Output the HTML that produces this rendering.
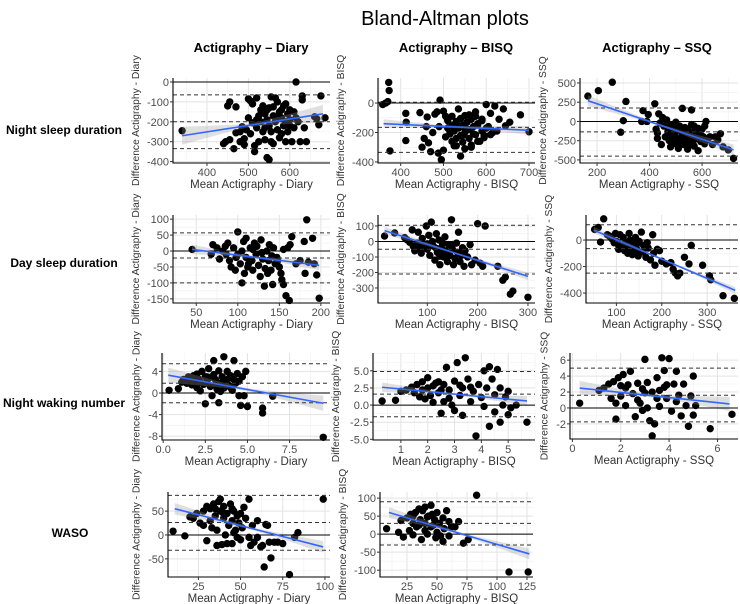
<!DOCTYPE html>
<html><head><meta charset="utf-8"><style>
html,body{margin:0;padding:0;background:#fff;}
svg{display:block;font-family:"Liberation Sans",Arial,sans-serif;}
</style></head><body>
<svg id="chart" width="740" height="604" viewBox="0 0 740 604" xmlns="http://www.w3.org/2000/svg">
<text x="445" y="25" font-size="20" text-anchor="middle" fill="#000">Bland-Altman plots</text>
<text x="251" y="52" font-size="13" font-weight="bold" text-anchor="middle">Actigraphy – Diary</text>
<text x="456" y="52" font-size="13" font-weight="bold" text-anchor="middle">Actigraphy – BISQ</text>
<text x="657" y="52" font-size="13" font-weight="bold" text-anchor="middle">Actigraphy – SSQ</text>
<text x="64" y="134" font-size="12" font-weight="bold" text-anchor="middle">Night sleep duration</text>
<text x="64" y="267" font-size="12" font-weight="bold" text-anchor="middle">Day sleep duration</text>
<text x="64" y="407" font-size="12" font-weight="bold" text-anchor="middle">Night waking number</text>
<text x="70" y="537" font-size="12" font-weight="bold" text-anchor="middle">WASO</text>
</svg>
<script>
// ---- data: points [mean, difference] per panel ----
const nightDiary=[[340,-245],[450,-120],[455,-100],[470,-125],[440,-310],[445,-300],[455,-290],[465,-335],[470,-255],[480,-250],[485,-225],[490,-285],[490,-315],[495,-240],[500,-180],[500,-85],[505,-95],[510,-110],[510,-205],[515,-350],[520,-80],[520,-230],[525,-300],[530,-140],[530,-200],[535,-120],[535,-250],[540,-160],[540,-290],[545,-190],[545,-380],[550,-390],[550,-130],[550,-220],[555,-75],[555,-250],[560,-170],[560,-310],[565,-80],[565,-200],[570,-100],[570,-240],[575,-150],[575,-280],[580,-180],[580,-260],[585,-120],[585,-220],[590,-110],[590,-300],[595,-160],[595,-250],[600,-140],[600,-190],[605,-300],[610,-230],[615,0],[615,-180],[620,-200],[625,-300],[630,-70],[630,-90],[635,-230],[640,-300],[660,-175],[665,-185],[670,-215],[675,-70],[685,-180],[525,-170],[545,-140],[560,-125],[505,-260],[515,-320],[570,-170],[590,-200],[600,-220],[480,-300],[540,-230],[555,-300],[580,-140],[520,-190],[610,-150]];
const nightBisq=[[358,-10],[365,0],[370,10],[372,140],[373,85],[375,-325],[412,-70],[413,-130],[412,-255],[445,-65],[450,-300],[455,-240],[460,-160],[462,-95],[465,-270],[470,-330],[475,-200],[480,-75],[485,-60],[488,-340],[490,-160],[492,20],[495,-385],[500,-55],[500,-320],[505,-90],[510,-120],[515,-190],[520,-90],[525,-290],[530,-130],[535,-40],[540,-360],[545,-220],[550,-170],[555,-130],[560,-80],[565,-300],[570,-210],[575,-60],[580,-150],[585,-260],[590,-110],[595,-220],[600,-10],[605,-160],[610,-70],[615,-200],[620,-20],[625,-190],[630,-110],[640,-40],[645,-155],[655,-130],[680,-80],[700,-195],[505,-230],[515,-210],[525,-190],[535,-170],[545,-150],[555,-130],[565,-110],[575,-90],[520,-260],[530,-240],[540,-220],[550,-200],[560,-180],[570,-160],[580,-140],[590,-120],[530,-290],[545,-265],[560,-240],[575,-215],[590,-190],[600,-170],[550,-310],[565,-285],[580,-260],[595,-235],[610,-215],[510,-170],[520,-150],[530,-125],[540,-105],[550,-85]];
const nightSsq=[[165,330],[205,400],[258,510],[290,-140],[300,10],[310,260],[370,0],[375,140],[390,0],[395,90],[420,230],[425,-100],[430,-220],[430,-150],[435,100],[440,-20],[445,-300],[450,50],[455,-60],[460,-200],[465,20],[470,-130],[475,-250],[480,-50],[480,-330],[485,-170],[490,-90],[495,-280],[500,-10],[500,-200],[505,-120],[510,-350],[515,-60],[520,-240],[525,170],[525,-150],[530,-300],[535,-80],[540,-200],[545,-360],[550,-130],[555,-250],[560,150],[560,-40],[565,-180],[570,-320],[575,-100],[580,-220],[585,-380],[590,-150],[595,-260],[600,-100],[605,-200],[610,-60],[615,0],[620,-240],[630,-200],[640,-300],[650,-200],[660,-240],[670,-160],[680,-330],[700,-370],[720,-480],[505,-300],[515,-220],[545,-110],[565,-280],[585,-90],[475,-120],[490,-220],[530,-170],[550,-310],[570,-60],[595,-180],[610,-290],[540,-260],[520,-100],[580,-150]];
const dayDiary=[[45,5],[68,-10],[70,20],[75,10],[78,-25],[82,0],[85,15],[88,25],[90,-30],[92,-50],[95,10],[97,-60],[100,60],[100,-10],[103,-40],[105,0],[105,-100],[107,30],[110,-20],[110,40],[112,-50],[115,10],[117,-30],[118,-60],[120,25],[122,-10],[125,-45],[127,-80],[128,35],[130,-25],[132,-110],[133,-55],[135,0],[137,-30],[138,20],[140,-60],[142,-105],[143,10],[145,-40],[147,-20],[150,-50],[152,-70],[153,-90],[155,-105],[155,5],[158,-140],[160,10],[162,-155],[163,20],[165,45],[170,-40],[175,-30],[180,30],[181,-70],[183,98],[185,-35],[190,40],[192,-40],[195,-75],[198,-148],[113,-40],[123,15],[136,-70],[148,-30],[98,-20],[108,-70],[118,5],[129,-5],[141,-15],[86,-10]];
const dayBisq=[[15,35],[35,55],[55,25],[60,10],[65,-5],[70,75],[72,-30],[75,-60],[80,-10],[82,60],[85,-40],[88,-75],[90,20],[95,-20],[98,100],[100,-50],[103,40],[105,-90],[108,125],[110,0],[112,-30],[115,-120],[118,50],[120,-70],[123,10],[125,-150],[128,-40],[130,-10],[133,-100],[135,30],[137,-60],[140,-130],[142,-20],[145,-90],[148,140],[150,-50],[152,-150],[155,-110],[158,-10],[160,-70],[162,60],[165,-130],[168,-90],[170,-40],[173,-160],[175,-60],[180,-100],[185,-20],[188,-150],[195,-120],[200,115],[205,-140],[210,-160],[215,100],[240,-160],[250,-250],[255,-230],[265,-340],[270,-320],[300,-360],[140,-80],[118,-45],[125,-95],[165,-80],[150,-20],[130,-70],[108,-20],[100,-15],[90,-35]];
const daySsq=[[52,80],[60,95],[65,-15],[72,160],[80,40],[85,30],[90,10],[95,-20],[98,50],[100,-10],[105,-40],[108,40],[110,-60],[115,20],[118,-80],[120,-20],[125,-100],[128,50],[130,-50],[135,-110],[140,-30],[142,20],[145,-70],[148,-120],[150,-10],[155,60],[158,-90],[160,-40],[165,-130],[168,-20],[170,-60],[175,-150],[180,40],[182,-100],[185,-190],[190,-70],[195,-80],[200,-160],[210,-180],[220,-170],[225,-220],[230,-250],[235,-270],[240,-250],[250,-130],[260,-180],[265,-40],[290,-190],[305,-270],[308,-300],[335,-420],[360,-440],[115,-40],[125,-20],[135,-60],[145,-30],[105,-70],[150,-90],[130,0]];
const wakeDiary=[[0.35,0.5],[0.9,0.8],[1.1,2.0],[1.2,2.5],[1.4,1.8],[1.5,3.0],[1.6,2.2],[1.7,1.5],[1.8,3.2],[1.9,2.0],[2.0,1.0],[2.0,3.5],[2.1,2.6],[2.2,0.4],[2.3,4.0],[2.4,1.6],[2.5,-2.0],[2.5,3.0],[2.6,2.1],[2.7,4.5],[2.8,1.2],[2.9,-0.5],[3.0,3.4],[3.0,6.0],[3.1,2.5],[3.2,0.7],[3.3,-1.8],[3.3,4.1],[3.4,1.8],[3.5,3.0],[3.6,6.7],[3.6,0.9],[3.7,2.2],[3.8,4.0],[3.9,1.4],[4.0,3.2],[4.1,0.5],[4.2,6.0],[4.2,2.5],[4.3,1.8],[4.4,3.6],[4.5,2.2],[4.5,-0.5],[4.6,-2.3],[4.7,3.0],[4.8,-0.5],[4.9,4.0],[5.0,-2.5],[5.9,-2.8],[5.9,-3.7],[6.5,-0.6],[9.5,-8.2],[2.2,2.0],[2.6,3.0],[3.1,1.5],[3.9,2.7],[2.8,2.9],[3.4,0.3],[1.9,2.6],[4.0,1.0]];
const wakeBisq=[[0.3,0.6],[0.8,0.7],[1.0,2.0],[1.2,2.2],[1.4,2.6],[1.5,1.8],[1.6,3.0],[1.7,1.2],[1.8,3.4],[1.9,0.9],[2.0,4.0],[2.0,2.5],[2.1,1.4],[2.2,0.4],[2.3,3.2],[2.4,1.8],[2.5,-1.2],[2.6,3.0],[2.6,0.5],[2.7,5.5],[2.8,2.2],[2.9,0.0],[3.0,3.5],[3.0,-0.8],[3.1,6.2],[3.2,1.4],[3.3,-1.5],[3.3,2.5],[3.4,6.9],[3.5,3.8],[3.6,0.5],[3.7,2.0],[3.8,-4.5],[3.9,3.0],[4.0,1.1],[4.1,5.0],[4.1,-0.2],[4.2,2.5],[4.3,-3.1],[4.3,5.6],[4.4,3.8],[4.5,-1.0],[4.5,1.5],[4.6,5.2],[4.7,2.5],[4.7,-2.5],[4.8,0.0],[4.9,1.2],[5.0,2.0],[5.1,-0.4],[5.0,-1.4],[5.3,0.0],[5.7,-2.5],[2.2,2.8],[2.5,2.2],[2.8,1.0],[3.2,2.9],[3.6,2.6],[1.8,2.2],[2.4,3.4]];
const wakeSsq=[[0.3,0.6],[1.1,2.2],[1.3,2.5],[1.5,3.0],[1.6,1.2],[1.7,3.3],[1.8,-1.4],[1.8,0.6],[1.9,3.8],[2.0,1.5],[2.1,4.2],[2.2,2.5],[2.2,0.3],[2.4,4.6],[2.5,1.8],[2.6,-1.1],[2.7,3.1],[2.8,0.6],[2.9,2.4],[3.0,6.1],[3.1,0.0],[3.1,3.2],[3.2,-1.6],[3.3,-3.5],[3.3,2.0],[3.4,-2.0],[3.5,3.8],[3.6,0.2],[3.7,6.3],[3.8,2.6],[3.8,4.7],[3.9,1.2],[4.0,6.2],[4.1,-0.4],[4.2,3.0],[4.3,4.6],[4.4,1.6],[4.5,-1.0],[4.6,3.0],[4.7,0.3],[4.8,-2.3],[4.9,1.5],[5.0,4.0],[5.0,-0.9],[5.1,0.3],[5.7,-2.6],[6.6,-0.8],[2.3,2.9],[2.7,1.0],[3.0,1.9],[3.5,1.2],[3.9,2.9],[4.3,0.8],[2.0,2.8],[2.9,-0.3],[3.6,2.2]];
const wasoDiary=[[10,8],[17,-2],[20,38],[22,35],[24,45],[26,25],[28,50],[28,20],[30,-12],[30,60],[32,55],[33,15],[34,65],[35,40],[36,10],[37,70],[38,75],[38,50],[39,-20],[40,35],[40,60],[41,0],[42,45],[43,20],[44,65],[45,-18],[45,30],[46,50],[47,10],[48,40],[48,-5],[49,25],[50,-10],[51,15],[52,58],[53,35],[55,-5],[55,75],[56,-22],[57,20],[58,-15],[60,-5],[60,30],[62,-25],[63,-22],[64,-67],[65,22],[66,20],[67,-15],[68,-48],[70,-15],[72,-15],[75,-18],[79,-83],[82,-5],[84,5],[99,75],[35,55],[40,45],[45,55],[32,30],[50,45],[36,-22],[42,-18],[46,5]];
const wasoBisq=[[8,15],[18,5],[20,38],[22,-8],[25,45],[27,10],[28,55],[30,30],[30,-2],[32,60],[33,20],[35,70],[36,40],[37,-15],[38,65],[40,75],[40,30],[42,0],[43,50],[45,80],[45,20],[46,55],[48,40],[49,-10],[50,60],[52,30],[53,-5],[55,45],[56,15],[58,65],[60,-5],[60,35],[62,20],[65,20],[68,35],[72,-25],[76,-15],[83,108],[110,-105],[126,-105],[35,25],[42,48],[47,25],[55,-20],[30,50],[40,10],[50,5]];

// ---- statistics: [bias, upper LoA, lower LoA] ----
const statsNightDiary=[-200,-65,-335], statsNightBisq=[-165,5,-335], statsNightSsq=[-135,175,-450];
const statsDayDiary=[-22,57,-100], statsDayBisq=[-50,105,-210], statsDaySsq=[-65,115,-250];
const statsWakeDiary=[1.8,5.4,-1.8], statsWakeBisq=[1.6,4.9,-1.7], statsWakeSsq=[1.6,5.0,-1.75];
const statsWasoDiary=[26,83,-32], statsWasoBisq=[30,90,-30];
// ---- regression lines: [x1, y1, x2, y2] and CI half-width [at ends, at centre] ----
const regNightDiary=[340,-270,680,-160], ciNightDiary=[45,10];
const regNightBisq=[360,-140,700,-185], ciNightBisq=[30,8];
const regNightSsq=[165,270,720,-370], ciNightSsq=[70,15];
const regDayDiary=[45,5,198,-45], ciDayDiary=[15,4];
const regDayBisq=[15,70,300,-225], ciDayBisq=[25,6];
const regDaySsq=[50,75,362,-380], ciDaySsq=[25,6];
const regWakeDiary=[0.3,3.3,9.5,-1.9], ciWakeDiary=[1.4,0.3];
const regWakeBisq=[0.3,2.6,5.7,0.6], ciWakeBisq=[0.7,0.15];
const regWakeSsq=[0.3,2.5,6.5,0.5], ciWakeSsq=[0.9,0.2];
const regWasoDiary=[11,55,99,-25], ciWasoDiary=[12,3];
const regWasoBisq=[10,60,127,-55], ciWasoBisq=[15,4];
// ---- tick values ----
const ticksNightDiaryX=[400,500,600], ticksNightDiaryY=[0,-100,-200,-300,-400];
const ticksNightBisqX=[400,500,600,700], ticksNightBisqY=[0,-200,-400];
const ticksNightSsqX=[200,400,600], ticksNightSsqY=[500,250,0,-250,-500];
const ticksDayDiaryX=[50,100,150,200], ticksDayDiaryY=[100,50,0,-50,-100,-150];
const ticksDayBisqX=[100,200,300], ticksDayBisqY=[100,0,-100,-200,-300];
const ticksDaySsqX=[100,200,300], ticksDaySsqY=[0,-200,-400];
const ticksWakeDiaryX=[0,2.5,5,7.5], ticksWakeDiaryY=[4,0,-4,-8];
const ticksWakeBisqX=[1,2,3,4,5], ticksWakeBisqY=[5,2.5,0,-2.5,-5];
const ticksWakeSsqX=[0,2,4,6], ticksWakeSsqY=[6,4,2,0,-2];
const ticksWasoDiaryX=[25,50,75,100], ticksWasoDiaryY=[50,0,-50];
const ticksWasoBisqX=[25,50,75,100,125], ticksWasoBisqY=[100,50,0,-50,-100];

// ---- layout (pixel geometry & domains) ----
const panels=[
 {id:'night-diary',pts:nightDiary,st:statsNightDiary,rg:regNightDiary,ci:ciNightDiary,tx:ticksNightDiaryX,ty:ticksNightDiaryY,box:[173,78,330,163],dx:[318,697],dy:[-407,20],xl:'Mean Actigraphy - Diary',yl:'Difference Actigraphy - Diary',dec:0},
 {id:'night-bisq',pts:nightBisq,st:statsNightBisq,rg:regNightBisq,ci:ciNightBisq,tx:ticksNightBisqX,ty:ticksNightBisqY,box:[378,78,535,163],dx:[347,714],dy:[-407,170],xl:'Mean Actigraphy - BISQ',yl:'Difference Actigraphy - BISQ',dec:0},
 {id:'night-ssq',pts:nightSsq,st:statsNightSsq,rg:regNightSsq,ci:ciNightSsq,tx:ticksNightSsqX,ty:ticksNightSsqY,box:[580,78,738,163],dx:[135,737],dy:[-540,565],xl:'Mean Actigraphy - SSQ',yl:'Difference Actigraphy - SSQ',dec:0},
 {id:'day-diary',pts:dayDiary,st:statsDayDiary,rg:regDayDiary,ci:ciDayDiary,tx:ticksDayDiaryX,ty:ticksDayDiaryY,box:[173,215,330,303],dx:[22,211],dy:[-163,113],xl:'Mean Actigraphy - Diary',yl:'Difference Actigraphy - Diary',dec:0},
 {id:'day-bisq',pts:dayBisq,st:statsDayBisq,rg:regDayBisq,ci:ciDayBisq,tx:ticksDayBisqX,ty:ticksDayBisqY,box:[378,215,535,303],dx:[2,314],dy:[-397,171],xl:'Mean Actigraphy - BISQ',yl:'Difference Actigraphy - BISQ',dec:0},
 {id:'day-ssq',pts:daySsq,st:statsDaySsq,rg:regDaySsq,ci:ciDaySsq,tx:ticksDaySsqX,ty:ticksDaySsqY,box:[586,215,738,303],dx:[33,368],dy:[-475,189],xl:'Mean Actigraphy - SSQ',yl:'Difference Actigraphy - SSQ',dec:0},
 {id:'wake-diary',pts:wakeDiary,st:statsWakeDiary,rg:regWakeDiary,ci:ciWakeDiary,tx:ticksWakeDiaryX,ty:ticksWakeDiaryY,box:[162,353,330,440],dx:[-0.07,9.9],dy:[-8.7,7.4],xl:'Mean Actigraphy - Diary',yl:'Difference Actigraphy - Diary',dec:1,ydec:0},
 {id:'wake-bisq',pts:wakeBisq,st:statsWakeBisq,rg:regWakeBisq,ci:ciWakeBisq,tx:ticksWakeBisqX,ty:ticksWakeBisqY,box:[373,353,535,440],dx:[-0.04,6],dy:[-5.1,7.6],xl:'Mean Actigraphy - BISQ',yl:'Difference Actigraphy - BISQ',dec:0,ydec:1},
 {id:'wake-ssq',pts:wakeSsq,st:statsWakeSsq,rg:regWakeSsq,ci:ciWakeSsq,tx:ticksWakeSsqX,ty:ticksWakeSsqY,box:[570,353,738,439],dx:[-0.1,6.85],dy:[-3.9,6.9],xl:'Mean Actigraphy - SSQ',yl:'Difference Actigraphy - SSQ',dec:0},
 {id:'waso-diary',pts:wasoDiary,st:statsWasoDiary,rg:regWasoDiary,ci:ciWasoDiary,tx:ticksWasoDiaryX,ty:ticksWasoDiaryY,box:[168,492,330,577],dx:[7,103],dy:[-88,90],xl:'Mean Actigraphy - Diary',yl:'Difference Actigraphy - Diary',dec:0},
 {id:'waso-bisq',pts:wasoBisq,st:statsWasoBisq,rg:regWasoBisq,ci:ciWasoBisq,tx:ticksWasoBisqX,ty:ticksWasoBisqY,box:[380,492,533,577],dx:[2.5,130],dy:[-119,117],xl:'Mean Actigraphy - BISQ',yl:'Difference Actigraphy - BISQ',dec:0}
];
const NS='http://www.w3.org/2000/svg';
const svg=document.getElementById('chart');
function mk(tag,attrs,parent){const e=document.createElementNS(NS,tag);for(const k in attrs)e.setAttribute(k,attrs[k]);(parent||svg).appendChild(e);return e;}
panels.forEach(p=>{
 const [l,t,r,b]=p.box;
 const sx=v=>l+(v-p.dx[0])/(p.dx[1]-p.dx[0])*(r-l);
 const sy=v=>b-(v-p.dy[0])/(p.dy[1]-p.dy[0])*(b-t);
 const g=mk('g',{});
 
 
 const clipId='clip-'+p.id;
 const cp=mk('clipPath',{id:clipId},g);mk('rect',{x:l-4,y:t-4,width:r-l+8,height:b-t+8},cp);
 const stepX=p.tx[1]-p.tx[0], stepY=p.ty[0]-p.ty[1];
 for(let v=p.tx[0]-stepX*2;v<=p.dx[1]+stepX;v+=stepX/2){const x=sx(v);if(x<l||x>r)continue;
  const major=p.tx.some(u=>Math.abs(u-v)<1e-9);
  const gl=mk('line',{x1:x,x2:x,y1:t,y2:b,stroke:major?'#e3e3e3':'#f2f2f2','stroke-width':major?1:0.7},g);
  }
 for(let v=p.ty[p.ty.length-1]-stepY*2;v<=p.dy[1]+stepY;v+=stepY/2){const y=sy(v);if(y<t||y>b)continue;
  const major=p.ty.some(u=>Math.abs(u-v)<1e-9);
  const gl=mk('line',{x1:l,x2:r,y1:y,y2:y,stroke:major?'#e3e3e3':'#f2f2f2','stroke-width':major?1:0.7},g);
  }
 p.pts.forEach(d=>{const c=mk('circle',{cx:sx(d[0]),cy:sy(d[1]),r:3.7,fill:'#000','clip-path':'url(#'+clipId+')'},g);
  });
 const [x1,y1,x2,y2]=p.rg, xc=(x1+x2)/2, half=(x2-x1)/2;
 const hw=x=>Math.sqrt(p.ci[1]*p.ci[1]+(p.ci[0]*p.ci[0]-p.ci[1]*p.ci[1])*Math.pow((x-xc)/half,2));
 const ly=x=>y1+(y2-y1)*(x-x1)/(x2-x1);
 let up=[],lo=[];for(let i=0;i<=20;i++){const x=x1+(x2-x1)*i/20;up.push(sx(x)+','+sy(ly(x)+hw(x)));lo.unshift(sx(x)+','+sy(ly(x)-hw(x)));}
 const band=mk('polygon',{points:up.concat(lo).join(' '),fill:'#999','fill-opacity':0.3},g);
 
 const z=mk('line',{x1:l,x2:r,y1:sy(0),y2:sy(0),stroke:'#000','stroke-width':1},g);
 
 p.st.forEach((v,i)=>{const dl=mk('line',{x1:l,x2:r,y1:sy(v),y2:sy(v),stroke:'#333','stroke-width':1,'stroke-dasharray':'4,3'},g);
  });
 const rl=mk('line',{x1:sx(x1),y1:sy(y1),x2:sx(x2),y2:sy(y2),stroke:'#3366ff','stroke-width':1.6},g);
 
 const ax=mk('path',{d:`M${l},${t}V${b}H${r}`,stroke:'#000','stroke-width':1.1,fill:'none'},g);
 
 p.tx.forEach(v=>{const x=sx(v);mk('line',{x1:x,x2:x,y1:b,y2:b+3,stroke:'#333'},g);
  const tl=mk('text',{x:x,y:b+13,'font-size':11,'text-anchor':'middle',fill:'#4d4d4d'},g);tl.textContent=v.toFixed(p.dec);
  });
 const yd=p.ydec!==undefined?p.ydec:p.dec;
 let maxw=0;
 p.ty.forEach(v=>{const y=sy(v);mk('line',{x1:l-3,x2:l,y1:y,y2:y,stroke:'#333'},g);
  const s=v.toFixed(yd);maxw=Math.max(maxw,s.length);
  const tl=mk('text',{x:l-4,y:y+4,'font-size':11,'text-anchor':'end',fill:'#4d4d4d'},g);tl.textContent=s;
  });
 const xt=mk('text',{x:(l+r)/2,y:b+25,'font-size':11.5,'text-anchor':'middle',fill:'#333'},g);xt.textContent=p.xl;
 
 const yx=l-maxw*5.8-11, ycen=(t+b)/2;
 const yt=mk('text',{x:yx,y:ycen,'font-size':10.3,'text-anchor':'middle',fill:'#333',transform:`rotate(-90 ${yx} ${ycen})`},g);yt.textContent=p.yl;
 
});
</script>
</body></html>
